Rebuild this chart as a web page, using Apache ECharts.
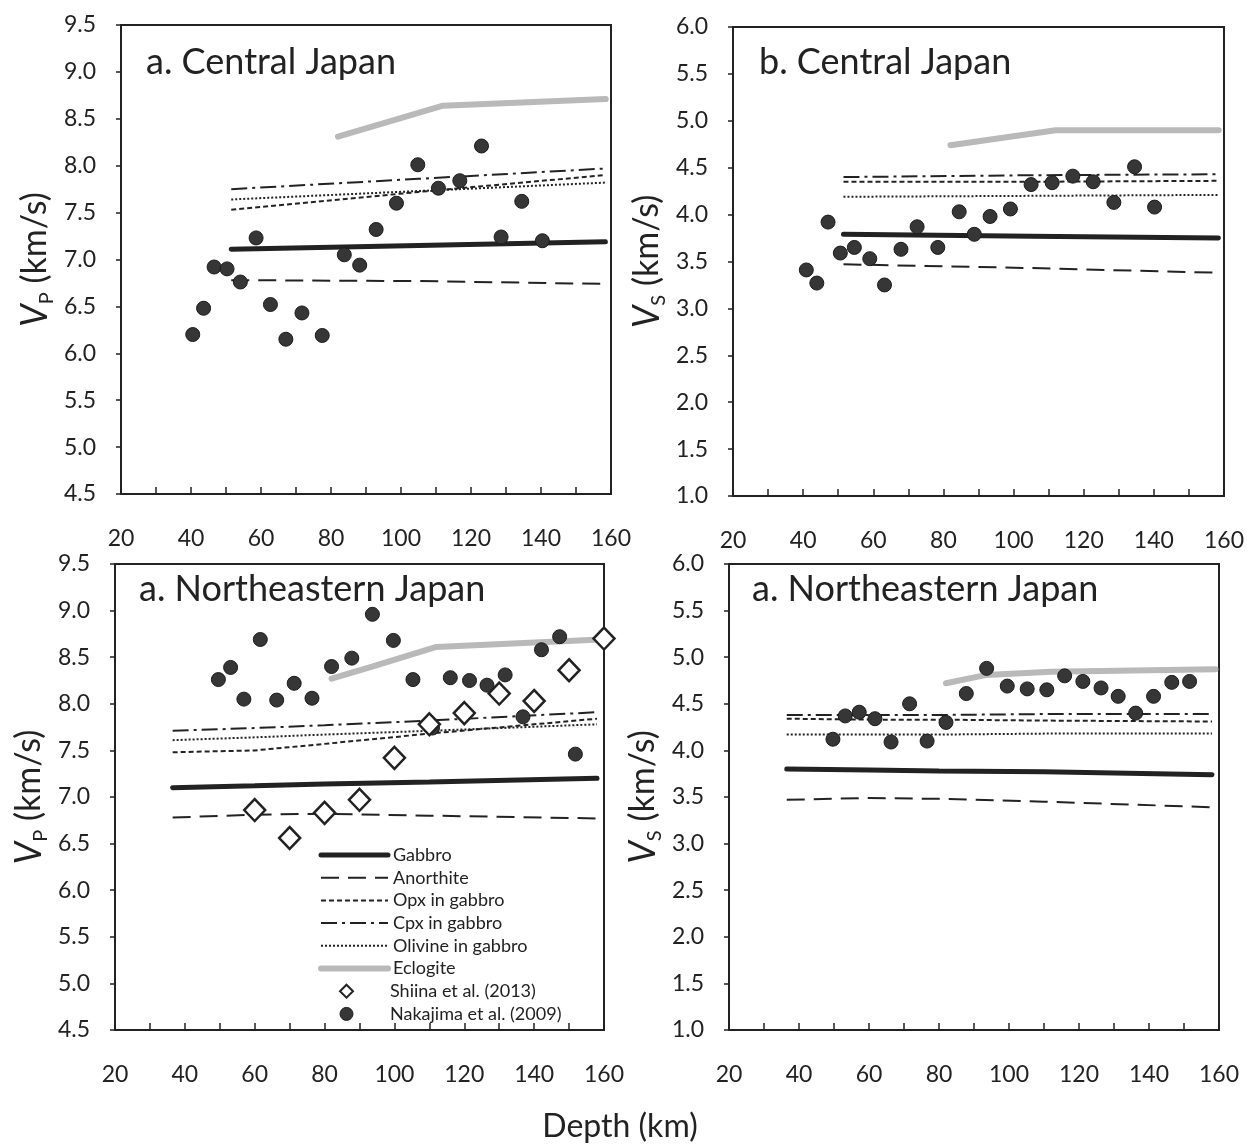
<!DOCTYPE html>
<html><head><meta charset="utf-8">
<script src="https://cdn.jsdelivr.net/npm/echarts/dist/echarts.min.js"></script>
<style>html,body{margin:0;padding:0;background:#fff}#c{width:1247px;height:1148px}</style>
</head><body><div id="c"></div>
<script>
// ---------- Observations: Nakajima et al. (2009) ----------
const cjVpDepth = [40.5,43.6,46.6,50.3,54.1,58.6,62.7,67.1,71.7,77.5,83.8,88.2,92.9,98.7,104.8,110.7,116.8,123.0,128.6,134.5,140.4];
const cjVp      = [6.20,6.48,6.92,6.90,6.76,7.23,6.52,6.15,6.43,6.19,7.05,6.94,7.32,7.60,8.01,7.76,7.84,8.21,7.24,7.62,7.20];
const cjVsDepth = [40.9,43.9,47.1,50.6,54.6,59.0,63.2,67.9,72.5,78.4,84.5,88.8,93.3,99.1,105.0,111.0,116.9,122.7,128.6,134.5,140.2];
const cjVs      = [3.41,3.27,3.92,3.59,3.65,3.53,3.25,3.63,3.87,3.65,4.03,3.79,3.98,4.06,4.32,4.34,4.41,4.35,4.13,4.51,4.08];
const neVpDepth = [49.6,53.1,56.9,61.6,66.3,71.3,76.4,82.0,87.8,93.7,99.7,105.3,110.9,116.0,121.5,126.5,131.7,136.8,142.1,147.3,151.8];
const neVp      = [8.26,8.39,8.05,8.69,8.04,8.22,8.06,8.40,8.49,8.96,8.68,8.26,7.74,8.28,8.25,8.20,8.31,7.86,8.58,8.72,7.46];
const neVsDepth = [49.7,53.2,57.2,61.7,66.3,71.6,76.6,82.0,87.8,93.6,99.5,105.2,110.8,115.9,121.1,126.3,131.2,136.2,141.3,146.5,151.6];
const neVs      = [4.12,4.37,4.41,4.34,4.09,4.50,4.10,4.30,4.61,4.88,4.69,4.66,4.65,4.80,4.74,4.67,4.58,4.40,4.58,4.73,4.74];
// ---------- Observations: Shiina et al. (2013) ----------
const shiinaDepth = [60,70,80,90,100,110,120,130,140,150,160];
const shiinaVp    = [6.86,6.56,6.83,6.97,7.42,7.78,7.90,8.11,8.03,8.36,8.70];

// ---------- Model curves, Central Japan ----------
const cjModelDepth   = [51.5, 105, 158.4];
const cjVpGabbro     = [7.11, 7.15, 7.19];
const cjVpAnorthite  = [6.78, 6.77, 6.74];
const cjVpOpx        = [7.53, 7.72, 7.90];
const cjVpCpx        = [7.75, 7.86, 7.97];
const cjVpOlivine    = [7.64, 7.73, 7.82];
const cjVsGabbro     = [3.79, 3.77, 3.75];
const cjVsAnorthite  = [3.47, 3.43, 3.38];
const cjVsOpx        = [4.35, 4.35, 4.36];
const cjVsCpx        = [4.40, 4.42, 4.43];
const cjVsOlivine    = [4.19, 4.20, 4.21];
const cjEclogiteDepth = [82, 112, 158.5];
const cjVpEclogite    = [8.31, 8.64, 8.71];
const cjVsEclogite    = [4.74, 4.90, 4.90];

// ---------- Model curves, Northeastern Japan ----------
const neModelDepth   = [36.5, 60, 80, 110, 158];
const neVpGabbro     = [7.10, 7.12, 7.14, 7.16, 7.20];
const neVpAnorthite  = [6.78, 6.81, 6.82, 6.80, 6.77];
const neVpOpx        = [7.48, 7.50, 7.57, 7.68, 7.84];
const neVpCpx        = [7.71, 7.74, 7.77, 7.82, 7.91];
const neVpOlivine    = [7.61, 7.64, 7.67, 7.71, 7.78];
const neVsGabbro     = [3.80, 3.79, 3.78, 3.77, 3.74];
const neVsAnorthite  = [3.47, 3.49, 3.48, 3.45, 3.39];
const neVsOpx        = [4.34, 4.33, 4.33, 4.32, 4.31];
const neVsCpx        = [4.38, 4.38, 4.38, 4.39, 4.39];
const neVsOlivine    = [4.17, 4.17, 4.17, 4.18, 4.18];
const neEclogiteDepth = [82, 93.6, 112, 159];
const neVpEclogite    = [8.27, 8.40, 8.61, 8.69];
const neVsEclogite    = [4.72, 4.81, 4.845, 4.87];

// ---------- Axis ticks / labels ----------
const depthTicks = [20, 160, 10];
const vpTicks = [4.5, 9.5, 0.5];
const vsTicks = [1.0, 6.0, 0.5];
const panelTitles = ['a. Central Japan', 'b. Central Japan', 'a. Northeastern Japan', 'a. Northeastern Japan'];
const modelNames = ['Gabbro','Anorthite','Opx in gabbro','Cpx in gabbro','Olivine in gabbro','Eclogite'];
const obsNames = ['Shiina et al. (2013)','Nakajima et al. (2009)'];

// ---------- Rendering ----------
const FONT = 'Lato';
const INK = '#222';
const CLEAR = 'rgba(0,0,0,0)';
const lineStyles = {
  'Gabbro': {color: INK, width: 5, type: 'solid', cap: 'round'},
  'Anorthite': {color: INK, width: 2, type: [18, 9]},
  'Opx in gabbro': {color: INK, width: 2, type: [5, 3]},
  'Cpx in gabbro': {color: INK, width: 2, type: [16, 5, 3, 5]},
  'Olivine in gabbro': {color: INK, width: 2, type: [2, 2]},
  'Eclogite': {color: '#b9b9b9', width: 6, type: 'solid', cap: 'round'}
};
const pts = (xs, ys) => xs.map((x, i) => [x, ys[i]]);

const grids = [
  {left: 121, top: 25, width: 490, height: 469},
  {left: 733, top: 27, width: 491, height: 469},
  {left: 115, top: 564, width: 489, height: 466},
  {left: 729, top: 564, width: 490, height: 466}
].map(g => Object.assign(g, {show: true, borderColor: INK, borderWidth: 2, backgroundColor: 'transparent'}));

const xAxes = grids.map((g, i) => ({
  type: 'value', gridIndex: i, min: depthTicks[0], max: depthTicks[1], interval: depthTicks[2],
  axisLine: {lineStyle: {color: INK, width: 2}},
  axisTick: {inside: true, length: 7, lineStyle: {color: INK, width: 1.5}},
  splitLine: {show: false},
  axisLabel: {margin: 33, color: INK, fontFamily: FONT, fontSize: 23,
    formatter: v => ((v - 20) % 20 === 0 ? String(v) : '')}
}));

function yAxis(i, ticks, sub) {
  return {
    type: 'value', gridIndex: i, min: ticks[0], max: ticks[1], interval: ticks[2],
    axisLine: {show: true, lineStyle: {color: INK, width: 2}},
    axisTick: {show: true, inside: false, length: 5, lineStyle: {color: INK, width: 1.5}},
    splitLine: {show: false},
    axisLabel: {margin: 25, color: INK, fontFamily: FONT, fontSize: 23, formatter: v => v.toFixed(1)},
    name: '{i|V}{s|' + sub + '}{n| (km/s)}',
    nameLocation: 'middle', nameRotate: 90, nameGap: 68,
    nameTextStyle: {color: INK, fontFamily: FONT, fontSize: 34,
      rich: {
        i: {fontFamily: FONT, fontSize: 36, fontStyle: 'italic', color: INK},
        s: {fontFamily: FONT, fontSize: 20, color: INK, verticalAlign: 'bottom', padding: [0, 0, -4, 0]},
        n: {fontFamily: FONT, fontSize: 34, color: INK}
      }}
  };
}
const yAxes = [yAxis(0, vpTicks, 'P'), yAxis(1, vsTicks, 'S'), yAxis(2, vpTicks, 'P'), yAxis(3, vsTicks, 'S')];

const series = [];
function addLine(name, i, xs, ys) {
  const ls = lineStyles[name];
  series.push({type: 'line', name, xAxisIndex: i, yAxisIndex: i, data: pts(xs, ys),
    symbol: 'none', showSymbol: false, z: name === 'Eclogite' ? 2 : 3, silent: true,
    lineStyle: Object.assign({}, ls), itemStyle: {color: CLEAR, borderWidth: 0}});
}
function addDots(i, xs, ys) {
  series.push({type: 'scatter', name: obsNames[1], xAxisIndex: i, yAxisIndex: i,
    data: pts(xs, ys), symbol: 'circle', symbolSize: 14, z: 6, clip: false,
    itemStyle: {color: '#363636', borderColor: '#1c1c1c', borderWidth: 1, opacity: 1}});
}
function addModels(i, depth, gab, ano, opx, cpx, oli, eDepth, ecl) {
  addLine('Eclogite', i, eDepth, ecl);
  addLine('Gabbro', i, depth, gab);
  addLine('Anorthite', i, depth, ano);
  addLine('Opx in gabbro', i, depth, opx);
  addLine('Cpx in gabbro', i, depth, cpx);
  addLine('Olivine in gabbro', i, depth, oli);
}
// Panel a (Central Vp)
addModels(0, cjModelDepth, cjVpGabbro, cjVpAnorthite, cjVpOpx, cjVpCpx, cjVpOlivine, cjEclogiteDepth, cjVpEclogite);
addDots(0, cjVpDepth, cjVp);
// Panel b (Central Vs)
addModels(1, cjModelDepth, cjVsGabbro, cjVsAnorthite, cjVsOpx, cjVsCpx, cjVsOlivine, cjEclogiteDepth, cjVsEclogite);
addDots(1, cjVsDepth, cjVs);
// Panel c (Northeastern Vp)
addModels(2, neModelDepth, neVpGabbro, neVpAnorthite, neVpOpx, neVpCpx, neVpOlivine, neEclogiteDepth, neVpEclogite);
addDots(2, neVpDepth, neVp);
series.push({type: 'scatter', name: obsNames[0], xAxisIndex: 2, yAxisIndex: 2,
  data: pts(shiinaDepth, shiinaVp), symbol: 'diamond', symbolSize: [21, 22], z: 7, clip: false,
  itemStyle: {color: '#ffffff', borderColor: INK, borderWidth: 2.5, opacity: 1}});
// Panel d (Northeastern Vs)
addModels(3, neModelDepth, neVsGabbro, neVsAnorthite, neVsOpx, neVsCpx, neVsOlivine, neEclogiteDepth, neVsEclogite);
addDots(3, neVsDepth, neVs);

const titlePos = [[146, 44], [759, 44], [139, 571], [752, 571]];
const titles = panelTitles.map((t, i) => ({text: t, left: titlePos[i][0], top: titlePos[i][1], padding: 0,
  textStyle: {fontFamily: FONT, fontSize: 36, fontWeight: 'normal', color: INK}}));
titles.push({text: 'Depth (km)', left: 620, textAlign: 'center', top: 1111, padding: 0,
  textStyle: {fontFamily: FONT, fontSize: 32, fontWeight: 'normal', color: INK}});

const PITCH_GAP = 4.7;
const legendText = {fontFamily: FONT, fontSize: 18, color: INK, lineHeight: 18};
const legends = [
  {
    data: modelNames.map(n => ({name: n, lineStyle: Object.assign({}, lineStyles[n]),
      itemStyle: {color: CLEAR, borderWidth: 0, opacity: 0}})),
    orient: 'vertical', left: 318, top: 846, padding: 0,
    itemWidth: 67, itemHeight: 13, itemGap: PITCH_GAP, selectedMode: false,
    textStyle: legendText
  },
  {
    data: [
      {name: obsNames[0], icon: 'diamond', itemStyle: {color: '#fff', borderColor: INK, borderWidth: 2}},
      {name: obsNames[1], icon: 'circle', itemStyle: {color: '#363636', borderColor: '#1c1c1c', borderWidth: 1}}
    ],
    orient: 'vertical', left: 339, top: 846 + 6 * (18 + PITCH_GAP), padding: 0,
    itemWidth: 13, itemHeight: 13, itemGap: PITCH_GAP, selectedMode: false,
    textStyle: Object.assign({padding: [0, 0, 0, 32]}, legendText)
  }
];

const chart = echarts.init(document.getElementById('c'), null, {renderer: 'canvas'});
chart.setOption({
  animation: false,
  backgroundColor: '#fff',
  title: titles,
  grid: grids,
  xAxis: xAxes,
  yAxis: yAxes,
  legend: legends,
  series
});
</script></body></html>
